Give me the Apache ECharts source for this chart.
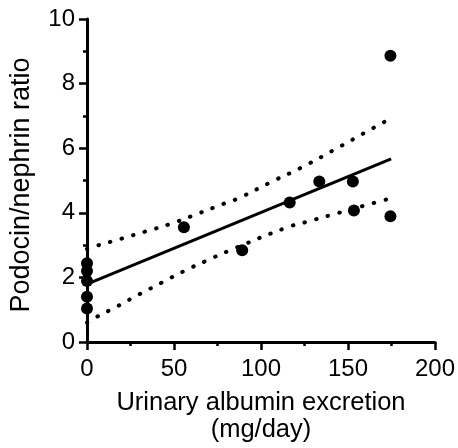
<!DOCTYPE html>
<html><head><meta charset="utf-8">
<script src="https://cdn.jsdelivr.net/npm/echarts@6/dist/echarts.min.js"></script>
<style>html,body{margin:0;padding:0;background:#fff}#c{width:458px;height:448px}</style>
</head><body><div id="c"></div>
<script>
// Observed data points [albumin mg/day, podocin/nephrin ratio]
const pointsX = [0, 0, 0, 0, 0, 55.7, 89.2, 116.5, 133.5, 152.8, 153.4, 174.4, 174.4];
const pointsY = [2.44, 2.2, 1.89, 1.4, 1.04, 3.55, 2.84, 4.32, 4.97, 4.97, 4.07, 3.89, 8.86];
// Regression line endpoints
const fitX = [0, 174.8];
const fitY = [1.79, 5.67];
// Upper 95% CI band
const upperX = [0, 6.25, 19.9, 33.5, 47, 60.2, 80, 86.6, 105.7, 124.6, 143.4, 162, 174.8];
const upperY = [2.88, 2.99, 3.2, 3.42, 3.64, 3.9, 4.31, 4.44, 4.95, 5.44, 5.99, 6.55, 6.93];
// Lower 95% CI band
const lowerX = [0, 5.7, 18, 30.5, 43, 55.9, 68.4, 81.4, 114.6, 127.8, 141.5, 168.6, 174.8];
const lowerY = [0.6, 0.78, 1.12, 1.49, 1.84, 2.2, 2.51, 2.82, 3.54, 3.74, 3.95, 4.36, 4.45];
// Axis settings
const xTicks = [0, 50, 100, 150, 200];
const yTicks = [0, 2, 4, 6, 8, 10];

const zip = (a, b) => a.map((v, i) => [v, b[i]]);
const font = "'Liberation Sans', Arial, sans-serif";
const dotted = {color: '#000', width: 4, type: [0.5, 11.5], cap: 'round'};

const chart = echarts.init(document.getElementById('c'), null, {renderer: 'canvas'});
chart.setOption({
  animation: false,
  backgroundColor: '#fff',
  grid: {left: 85, top: 19, right: 21, bottom: 105, containLabel: false},
  xAxis: {
    type: 'value', min: xTicks[0], max: xTicks[xTicks.length - 1], interval: 50,
    name: 'Urinary albumin excretion\n(mg/day)', nameLocation: 'middle', nameGap: 47,
    nameTextStyle: {fontFamily: font, fontSize: 25.5, color: '#000', lineHeight: 27},
    axisLine: {onZero: false, lineStyle: {color: '#000', width: 3}},
    axisTick: {show: true, length: 8, lineStyle: {color: '#000', width: 2.5}},
    minorTick: {show: true, splitNumber: 2, length: 4, lineStyle: {color: '#000', width: 2.5}},
    axisLabel: {fontFamily: font, fontSize: 24, color: '#000', margin: 15},
    splitLine: {show: false}
  },
  yAxis: {
    type: 'value', min: yTicks[0], max: yTicks[yTicks.length - 1], interval: 2,
    name: 'Podocin/nephrin ratio', nameLocation: 'middle', nameGap: 52,
    nameTextStyle: {fontFamily: font, fontSize: 27, color: '#000', padding: [0, 9, 0, 0]},
    axisLine: {onZero: false, lineStyle: {color: '#000', width: 3}},
    axisTick: {show: true, length: 8, lineStyle: {color: '#000', width: 2.5}},
    minorTick: {show: true, splitNumber: 2, length: 4, lineStyle: {color: '#000', width: 2.5}},
    axisLabel: {fontFamily: font, fontSize: 24, color: '#000', margin: 12},
    splitLine: {show: false}
  },
  series: [
    {type: 'line', data: zip(upperX, upperY), showSymbol: false, smooth: true, lineStyle: dotted, z: 2},
    {type: 'line', data: zip(lowerX, lowerY), showSymbol: false, smooth: true, lineStyle: dotted, z: 2},
    {type: 'line', data: zip(fitX, fitY), showSymbol: false, lineStyle: {color: '#000', width: 3}, z: 3},
    {type: 'scatter', data: zip(pointsX, pointsY), symbol: 'circle', symbolSize: 12, clip: false,
     itemStyle: {color: '#000', opacity: 1}, z: 5}
  ]
});
</script></body></html>
